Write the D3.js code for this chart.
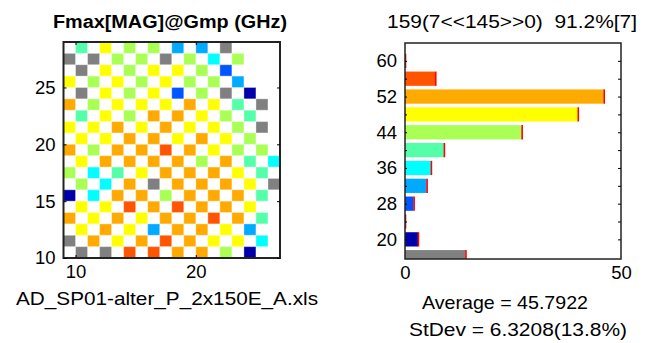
<!DOCTYPE html>
<html>
<head>
<meta charset="utf-8">
<script src="https://cdn.jsdelivr.net/npm/d3@7"></script>
<style>
body { margin: 0; background: #fff; }
text { font-family: Arial, "Liberation Sans", sans-serif; fill: #000; white-space: pre; }
.axis path { display: none; }
.axis line { stroke: #000; }
</style>
</head>
<body>
<svg id="chart" width="647" height="343"></svg>
<script>
// wafer map: first row is y=28, first column is x=9, "." = no die
var mapRows = [
    ".A.Y.L.L.S.S.G....",
    "G.G.L.L.G.L.C.L...",
    ".G.Y.L.Y.Y.L.B....",
    "Y.L.Y.L.Y.L.L.S...",
    ".G.Y.L.Y.B.L.G.N..",
    "O.L.Y.Y.Y.O.Y.A.G.",
    ".A.Y.L.O.O.Y.L.A..",
    "Y.Y.O.Y.O.Y.Y.L.G.",
    ".Y.Y.O.O.Y.O.Y.L..",
    "O.L.O.O.R.O.Y.L.L.",
    ".Y.O.O.O.O.L.O.A.C",
    "L.C.A.Y.O.O.O.Y.A.",
    ".L.C.O.G.O.O.O.Y.G",
    "N.C.O.O.L.O.O.O.A.",
    ".Y.Y.R.O.R.O.O.Y..",
    "O.Y.O.Y.O.O.R.O.A.",
    ".Y.O.Y.S.O.O.Y.S..",
    "G.O.Y.O.R.O.Y.Y.C.",
    ".G.G.R.R.O.O.L.N.."
];
var mapTopY = 28;
var mapLeftX = 9;

// histogram bins (GHz)
var binCenters = [16, 20, 24, 28, 32, 36, 40, 44, 48, 52, 56, 60];
var binCounts  = [14, 3, 0, 2, 5, 6, 9, 27, 40, 46, 7, 0];
var binCodes   = ["G", "N", "K", "B", "S", "C", "A", "L", "Y", "O", "R", "D"];
var binColors  = ["#808080", "#0000aa", "#0000ff", "#0055ff", "#00aaff", "#00ffff",
                  "#55ffaa", "#aaff55", "#ffff00", "#ffaa00", "#ff5500", "#aa0000"];

var mapXTicks = [10, 20];
var mapYTicks = [10, 15, 20, 25];
var histXTicks = [0, 50];
var histYTicks = [20, 28, 36, 44, 52, 60];
var histMinorTicks = [20, 24, 28, 32, 36, 40, 44, 48, 52, 56, 60];

var mapTitle = "Fmax[MAG]@Gmp (GHz)";
var histTitle = "159(7<<145>>0)  91.2%[7]";
var fileName = "AD_SP01-alter_P_2x150E_A.xls";
var avgText = "Average = 45.7922";
var sdText = "StDev = 6.3208(13.8%)";

var svg = d3.select("#chart");
var colorOf = d3.scaleOrdinal().domain(binCodes).range(binColors);

// ---------- wafer map ----------
var mx = d3.scaleLinear().domain([9, 27]).range([63.5, 280]);
var my = d3.scaleLinear().domain([10, 29]).range([258, 42]);

var cells = [];
mapRows.forEach(function (row, r) {
    row.split("").forEach(function (c, k) {
        if (c != ".") cells.push({x: mapLeftX + k, y: mapTopY - r, code: c});
    });
});

var mapArea = svg.append("g");
mapArea.selectAll("rect.cell")
    .data(cells)
    .enter().append("rect")
    .attr("class", "cell")
    .attr("x", function (d) { return mx(d.x); })
    .attr("y", function (d) { return my(d.y + 1); })
    .attr("width", function (d) { return mx(d.x + 1) - mx(d.x); })
    .attr("height", function (d) { return my(d.y) - my(d.y + 1); })
    .style("fill", function (d) { return colorOf(d.code); })
    .style("stroke", "#fff")
    .style("stroke-opacity", 0.35)
    .style("stroke-width", 1);

mapArea.append("rect")
    .attr("x", mx(9)).attr("y", my(29))
    .attr("width", mx(27) - mx(9)).attr("height", my(10) - my(29))
    .style("fill", "none").style("stroke", "#222").style("stroke-width", 2);

svg.append("g").attr("class", "axis")
    .attr("transform", "translate(0," + my(10) + ")")
    .call(d3.axisBottom(mx).tickValues(mapXTicks).tickSize(-3).tickPadding(7))
    .selectAll("text").style("font-size", "18.5px");
svg.append("g").attr("class", "axis")
    .attr("transform", "translate(0," + my(29) + ")")
    .call(d3.axisTop(mx).tickValues(mapXTicks).tickSize(-3).tickFormat(""));
svg.append("g").attr("class", "axis")
    .attr("transform", "translate(" + mx(9) + ",0)")
    .call(d3.axisLeft(my).tickValues(mapYTicks).tickSize(-3).tickPadding(8))
    .selectAll("text").style("font-size", "18.5px");
svg.append("g").attr("class", "axis")
    .attr("transform", "translate(" + mx(27) + ",0)")
    .call(d3.axisRight(my).tickValues(mapYTicks).tickSize(-3).tickFormat(""));

svg.append("text")
    .attr("x", 53).attr("y", 28)
    .attr("textLength", 234).attr("lengthAdjust", "spacingAndGlyphs")
    .style("font-size", "18px").style("font-weight", "bold")
    .text(mapTitle);

svg.append("text")
    .attr("x", 16).attr("y", 305)
    .attr("textLength", 302).attr("lengthAdjust", "spacingAndGlyphs")
    .style("font-size", "18.5px")
    .text(fileName);

// ---------- histogram ----------
var hx = d3.scaleLinear().domain([0, 50]).range([405, 621]);
var hy = d3.scaleLinear().domain([15.6, 64]).range([259, 43]);
var barH = hy(0) - hy(3.2);

svg.append("clipPath").attr("id", "histClip")
    .append("rect")
    .attr("x", hx(0)).attr("y", hy(64))
    .attr("width", hx(50) - hx(0)).attr("height", hy(15.6) - hy(64));

var bins = binCenters.map(function (c, i) {
    return {center: c, count: binCounts[i], color: binColors[i]};
});

var bars = svg.append("g").attr("clip-path", "url(#histClip)");
bars.selectAll("rect.bar")
    .data(bins)
    .enter().append("rect")
    .attr("class", "bar")
    .attr("x", hx(0))
    .attr("y", function (d) { return hy(d.center) - barH / 2; })
    .attr("width", function (d) { return hx(d.count) - hx(0); })
    .attr("height", barH)
    .style("fill", function (d) { return d.color; });
bars.selectAll("line.tip")
    .data(bins)
    .enter().append("line")
    .attr("class", "tip")
    .attr("x1", function (d) { return hx(d.count) + 0.5; })
    .attr("x2", function (d) { return hx(d.count) + 0.5; })
    .attr("y1", function (d) { return hy(d.center) - barH / 2; })
    .attr("y2", function (d) { return hy(d.center) + barH / 2; })
    .style("stroke", "#ff0000")
    .style("stroke-width", 1.6);

svg.append("rect")
    .attr("x", hx(0)).attr("y", hy(64))
    .attr("width", hx(50) - hx(0)).attr("height", hy(15.6) - hy(64))
    .style("fill", "none").style("stroke", "#222").style("stroke-width", 1.5);

svg.append("g").attr("class", "axis")
    .attr("transform", "translate(" + hx(0) + ",0)")
    .call(d3.axisLeft(hy).tickValues(histYTicks).tickSize(0).tickPadding(8))
    .selectAll("text").style("font-size", "18.5px");
svg.append("g").attr("class", "axis")
    .attr("transform", "translate(" + hx(0) + ",0)")
    .call(d3.axisLeft(hy).tickValues(histMinorTicks).tickSize(-2).tickFormat(""));
svg.append("g").attr("class", "axis")
    .attr("transform", "translate(" + hx(50) + ",0)")
    .call(d3.axisRight(hy).tickValues(histMinorTicks).tickSize(-3).tickFormat(""));
svg.append("g").attr("class", "axis")
    .attr("transform", "translate(0," + hy(15.6) + ")")
    .call(d3.axisBottom(hx).tickValues(histXTicks).tickSize(0).tickPadding(7))
    .selectAll("text").style("font-size", "18.5px");

svg.append("text")
    .attr("x", 387).attr("y", 28)
    .attr("textLength", 250).attr("lengthAdjust", "spacingAndGlyphs")
    .style("font-size", "18.5px")
    .text(histTitle);

svg.append("text")
    .attr("x", 422).attr("y", 309)
    .attr("textLength", 166).attr("lengthAdjust", "spacingAndGlyphs")
    .style("font-size", "18.5px")
    .text(avgText);
svg.append("text")
    .attr("x", 409).attr("y", 336)
    .attr("textLength", 218).attr("lengthAdjust", "spacingAndGlyphs")
    .style("font-size", "18.5px")
    .text(sdText);
</script>
</body>
</html>
